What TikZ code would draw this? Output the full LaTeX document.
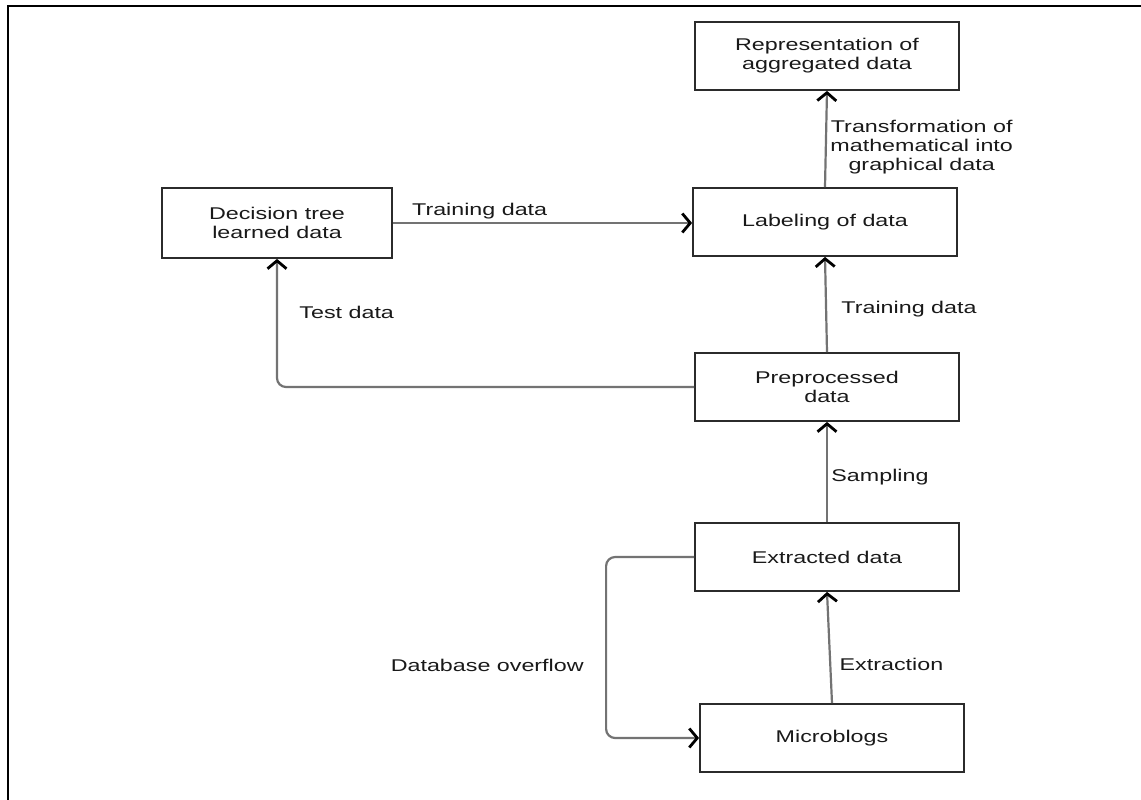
\documentclass[tikz,border=0pt]{standalone}
\usepackage{fontspec}
\setmainfont{Liberation Sans}[FakeStretch=1.37]
\usetikzlibrary{arrows.meta}
\definecolor{boxline}{HTML}{2B2B2B}
\definecolor{linkgray}{HTML}{737373}
\begin{document}
\begin{tikzpicture}[x=1pt,y=-1pt,
  box/.style={draw=boxline,line width=1.8pt,align=center,text=black!90,
    font=\fontsize{17}{19}\selectfont,minimum width=264pt,minimum height=68pt},
  link/.style={draw=linkgray,line width=2.2pt,
    -{Straight Barb[length=8pt,width=19pt,line width=2.8pt,color=black]}},
  lbl/.style={text=black!90,align=center,font=\fontsize{17}{19}\selectfont}]
\useasboundingbox (0,0) rectangle (1141,800);
% Frame, only top and left sides
\draw[line width=2.2pt] (8,800) -- (8,6) -- (1141,6);
% Boxes
\node[box] (repr) at (827,56) {Representation of\\aggregated data};
\node[box] (labeling) at (825,222) {Labeling of data};
\node[box] (prep) at (827,387) {Preprocessed\\data};
\node[box] (extr) at (827,557) {Extracted data};
\node[box] (micro) at (832,738) {Microblogs};
\node[box,minimum width=230pt,minimum height=70pt] (dtree) at (277,223) {Decision tree\\learned data};
% Flow upwards
\draw[link] (micro.north) -- node[lbl,pos=0.35,right,xshift=5pt] {Extraction} (extr.south);
\draw[link] (extr.north) -- node[lbl,midway,right,yshift=-5pt] {Sampling} (prep.south);
\draw[link] (prep.north) -- node[lbl,midway,right,xshift=11pt,yshift=-5pt] {Training data} (labeling.south);
\draw[link] (labeling.north) -- node[lbl,midway,right,yshift=-8pt] {Transformation of\\mathematical into\\graphical data} (repr.south);
% Side branches
\draw[link] (dtree.east) -- node[lbl,pos=0.29,above] {Training data} (dtree.east -| labeling.west);
\draw[link,rounded corners=9pt] (prep.west) -| node[lbl,pos=0.79,right,xshift=18pt] {Test data} (dtree.south);
\draw[link,rounded corners=9pt] (extr.west) -- ++(-88,0) |- node[lbl,pos=0.3,left,xshift=-18pt] {Database overflow} (micro.west);
\end{tikzpicture}
\end{document}
